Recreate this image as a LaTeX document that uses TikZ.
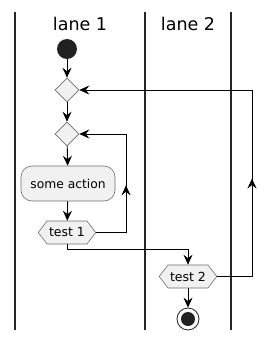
\documentclass[tikz,border=0pt]{standalone}
\usepackage{fontspec}
\setmainfont{DejaVu Sans}
\usepackage{xcolor}
\usetikzlibrary{shapes.geometric, shapes.symbols, arrows.meta, decorations.markings}
\definecolor{actfill}{HTML}{F1F1F1}
\definecolor{actline}{HTML}{6E6E6E}

\begin{document}
\begin{tikzpicture}[
  x=1pt, y=-1pt,
  lane/.style={line width=1.6pt, black!85},
  title/.style={font=\fontsize{17.5}{20}\selectfont},
  shapebox/.style={draw=actline, fill=actfill, line width=0.6pt, inner sep=0pt},
  merge/.style={shapebox, diamond, minimum width=24pt, minimum height=24pt},
  actbox/.style={shapebox, rectangle, rounded corners=11pt, minimum width=94pt,
                 minimum height=35pt, font=\fontsize{12.3}{15}\selectfont},
  testbox/.style={shapebox, signal, signal to=east and west, signal pointer angle=105,
                  minimum height=23pt, inner xsep=2pt, font=\fontsize{12.5}{15}\selectfont},
  startdot/.style={circle, fill=black!87, minimum size=20pt, inner sep=0pt},
  stopdot/.style={circle, draw=black!87, fill=white, line width=0.8pt, minimum size=22pt, inner sep=0pt,
                  path picture={\fill[black!87] (path picture bounding box.center) circle (7pt);}},
  flow/.style={line width=0.9pt},
  arrow/.style={flow, -{Stealth[length=10pt, width=9pt, inset=3.5pt]}},
  uparrow/.style={flow, decoration={markings,
                  mark=at position 0.6 with {\arrow{Stealth[length=10pt, width=9pt, inset=3.5pt]}}},
                  postaction={decorate}}
]
\useasboundingbox (0,0) rectangle (277,341);
% swimlanes
\draw[lane] (15,12) -- (15,330);
\draw[lane] (145,12) -- (145,330);
\draw[lane] (231,12) -- (231,330);
\node[title] (lane1) at (80,24) {lane 1};
\node[title] (lane2) at (188,24) {lane 2};
% activities
\node[startdot] (start) at (67,49) {};
\node[merge] (outer) at (67,90) {};
\node[merge] (inner) at (67,134) {};
\node[actbox] (act) at (68,183.5) {some action};
\node[testbox] (test1) at (67,232.5) {test 1};
\node[testbox] (test2) at (188,276.5) {test 2};
\node[stopdot] (stop) at (188,319) {};
% turning points
\coordinate (loop1) at (126,232.5);
\coordinate (loop1top) at (126,134);
\coordinate (loop2) at (252,276.5);
\coordinate (loop2top) at (252,90);
\coordinate (drop) at (67,249);
% connectors
\draw[arrow] (start) -- (outer);
\draw[arrow] (outer) -- (inner);
\draw[arrow] (inner) -- (act);
\draw[arrow] (act) -- (test1);
\draw[uparrow] (test1.east) -- (loop1) -- (loop1top);
\draw[arrow] (loop1top) -- (inner.east);
\draw[arrow] (test1.south) -- (drop) -| (test2.north);
\draw[uparrow] (test2.east) -- (loop2) -- (loop2top);
\draw[arrow] (loop2top) -- (outer.east);
\draw[arrow] (test2.south) -- (stop);
\end{tikzpicture}
\end{document}
